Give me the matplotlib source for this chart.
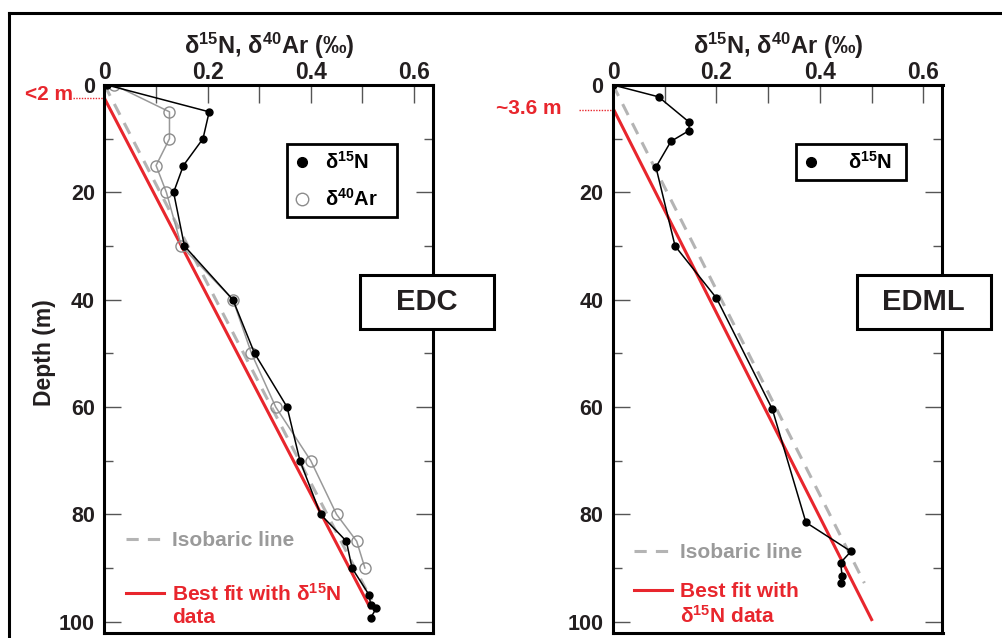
import numpy as np
import matplotlib
matplotlib.use('Agg')
import matplotlib.pyplot as plt
from matplotlib.lines import Line2D
from matplotlib.patches import Rectangle
from matplotlib.ticker import MultipleLocator

plt.rcParams['font.family'] = ['Liberation Sans', 'DejaVu Sans']
plt.rcParams['font.weight'] = 'bold'
plt.rcParams['axes.labelweight'] = 'bold'
plt.rcParams['mathtext.fontset'] = 'custom'
plt.rcParams['mathtext.rm'] = 'Liberation Sans:bold'
plt.rcParams['mathtext.it'] = 'Liberation Sans:bold'
plt.rcParams['mathtext.bf'] = 'Liberation Sans:bold'
plt.rcParams['mathtext.default'] = 'rm'

# --- EDC (left panel) ---
edc_n15_depth = [0, 5, 10, 15, 20, 30, 40, 50, 60, 70, 80, 85, 90, 95, 96.8, 97.5, 99.3]
edc_n15 = [0.005, 0.203, 0.191, 0.153, 0.134, 0.155, 0.249, 0.291, 0.354, 0.379,
           0.419, 0.469, 0.480, 0.513, 0.516, 0.527, 0.516]
edc_ar_depth = [0, 5, 10, 15, 20, 30, 40, 50, 60, 70, 80, 85, 90]
edc_ar = [0.019, 0.126, 0.126, 0.100, 0.120, 0.149, 0.249, 0.285, 0.332, 0.400,
          0.450, 0.489, 0.505]
edc_iso_depth = [0, 96]
edc_iso = [0, 0.518]
edc_fit_depth = [2.5, 97.4]
edc_fit = [0, 0.515]

# --- EDML (right panel) ---
edml_n15_depth = [0, 2.2, 6.9, 8.5, 10.5, 15.3, 30.0, 39.7, 60.4, 81.5, 86.9, 89.0, 91.5, 92.8]
edml_n15 = [0, 0.088, 0.147, 0.147, 0.112, 0.083, 0.120, 0.200, 0.308, 0.373,
            0.460, 0.440, 0.443, 0.441]
edml_iso_depth = [0, 92.8]
edml_iso = [0, 0.486]
edml_fit_depth = [4.7, 99.6]
edml_fit = [0.002, 0.50]

xtick_vals = [0, 0.2, 0.4, 0.6]
xtick_labels = ["0", "0.2", "0.4", "0.6"]
ytick_vals = [0, 20, 40, 60, 80, 100]

RED = "#e8262d"
GRAY_TXT = "#9a9a9a"
GRAY_DASH = "#b4b4b4"
TXT = "#231f20"

W, H = 1003, 638
fig = plt.figure(figsize=(W / 100, H / 100), dpi=100)


def fx(px):
    return px / W


def fy(py):
    return 1 - py / H


def setup_axes(ax):
    ax.set_xlim(0, 0.637)
    ax.set_ylim(102.1, 0)
    ax.xaxis.tick_top()
    ax.xaxis.set_label_position('top')
    ax.set_xticks(xtick_vals)
    ax.set_xticklabels(xtick_labels)
    ax.xaxis.set_minor_locator(MultipleLocator(0.1))
    ax.set_yticks(ytick_vals)
    ax.yaxis.set_minor_locator(MultipleLocator(10))
    ax.tick_params(axis='x', which='both', direction='in', length=13, width=1,
                   color='#555555', top=True, bottom=False, labeltop=True,
                   labelbottom=False, pad=0.5, labelsize=16.5, labelcolor=TXT)
    ax.tick_params(axis='y', which='major', direction='in', length=12.5, width=1,
                   color='#555555', left=True, right=True, pad=7,
                   labelsize=15.5, labelcolor=TXT)
    ax.tick_params(axis='y', which='minor', direction='in', length=6.5, width=1,
                   color='#555555', left=True, right=True)
    for sp in ax.spines.values():
        sp.set_linewidth(2.2)
    ax.set_xlabel("δ$^{15}$N, δ$^{40}$Ar (‰)", fontsize=17, color=TXT,
                  fontweight='bold', labelpad=5)


def line_legends(ax, iso, fit, fit_lines, x_px, iso_y, fit_y):
    """Frameless legends for the isobaric and best-fit lines (text in line colour)."""
    a = ax.legend(handles=[iso], labels=["Isobaric line"], loc='center left',
                  bbox_to_anchor=(fx(x_px), fy(iso_y)), bbox_transform=fig.transFigure,
                  borderaxespad=0, frameon=False, handlelength=1.8, handletextpad=0.4,
                  labelcolor=[GRAY_TXT], prop={'size': 15, 'weight': 'bold'})
    ax.add_artist(a)
    blank = Line2D([], [], alpha=0)
    ax.legend(handles=[fit, blank], labels=fit_lines, loc='center left',
              bbox_to_anchor=(fx(x_px), fy(fit_y)), bbox_transform=fig.transFigure,
              borderaxespad=0, frameon=False, handlelength=1.8, handletextpad=0.4,
              labelspacing=0.15, labelcolor=[RED, RED],
              prop={'size': 15, 'weight': 'bold'})


def boxed_legend(ax, handles, labels, box_px, textpad, labelspacing=0.75):
    """Black framed legend stretched to the box given in pixels (x0, y0, x1, y1)."""
    x0, y0, x1, y1 = box_px
    leg = ax.legend(handles=handles, labels=labels, loc='upper left', mode='expand',
                    bbox_to_anchor=(fx(x0), fy(y1), fx(x1 - x0), (y1 - y0) / H),
                    bbox_transform=fig.transFigure, borderaxespad=0, fancybox=False,
                    framealpha=1, edgecolor='black', handlelength=0.8,
                    handletextpad=textpad, labelspacing=labelspacing, borderpad=0.35,
                    prop={'size': 14.5, 'weight': 'bold'})
    leg.get_frame().set_linewidth(2)
    ax.add_artist(leg)


ax1 = fig.add_axes([fx(104.5), fy(633), fx(433) - fx(104.5), fy(85) - fy(633)])
ax2 = fig.add_axes([fx(613), fy(633), fx(942.5) - fx(613), fy(85) - fy(633)])
setup_axes(ax1)
setup_axes(ax2)

# left panel
iso1, = ax1.plot(edc_iso, edc_iso_depth, color=GRAY_DASH, lw=2.2, ls=(0, (4, 3)))
fit1, = ax1.plot(edc_fit, edc_fit_depth, color=RED, lw=2.2)
ar1, = ax1.plot(edc_ar, edc_ar_depth, color='#999999', lw=1.1, marker='o', ms=8,
                mfc='none', mec='#8c8c8c', mew=1)
n1, = ax1.plot(edc_n15, edc_n15_depth, color='black', lw=1.1, marker='o', ms=5)
ax1.plot([-0.062, 0], [edc_fit_depth[0]] * 2, color=RED, lw=1, ls=(0, (1, 1)),
         clip_on=False)
fig.text(fx(73), fy(95), "<2 m", color=RED, fontsize=15, ha='right', va='center')
fig.text(fx(45), fy(353), "Depth (m)", rotation=90, fontsize=16.5, color=TXT,
         fontweight='bold', ha='center', va='center')

boxed_legend(ax1,
             [Line2D([], [], ls='none', marker='o', ms=7, color='black'),
              Line2D([], [], ls='none', marker='o', ms=9, mfc='none',
                     mec='#8c8c8c', mew=1)],
             ["δ$^{15}$N", "δ$^{40}$Ar"], (287, 144, 397, 216), 0.75)
line_legends(ax1, iso1, fit1, ["Best fit with δ$^{15}$N", "data"], 118, 541, 604.5)

# right panel
iso2, = ax2.plot(edml_iso, edml_iso_depth, color=GRAY_DASH, lw=2.2, ls=(0, (4, 3)))
fit2, = ax2.plot(edml_fit, edml_fit_depth, color=RED, lw=2.2)
n2, = ax2.plot(edml_n15, edml_n15_depth, color='black', lw=1.1, marker='o', ms=5)
ax2.plot([-0.065, 0], [edml_fit_depth[0]] * 2, color=RED, lw=1, ls=(0, (1, 1)),
         clip_on=False)
fig.text(fx(562), fy(108), "~3.6 m", color=RED, fontsize=15, ha='right', va='center')

boxed_legend(ax2, [Line2D([], [], ls='none', marker='o', ms=7, color='black')],
             ["δ$^{15}$N"], (796, 144, 906, 180), 1.45)
line_legends(ax2, iso2, fit2, ["Best fit with", "δ$^{15}$N data"], 626, 553, 604.5)

# site boxes
for x0, name in [(360, "EDC"), (856.7, "EDML")]:
    fig.patches.append(Rectangle((fx(x0), fy(329)), fx(134), 54 / H,
                                 transform=fig.transFigure, facecolor='white',
                                 edgecolor='black', lw=2.2, zorder=5))
    fig.text(fx(x0 + 67), fy(302), name, fontsize=21, color=TXT, ha='center',
             va='center', zorder=6)

# outer frame (cropped)
fig.add_artist(Line2D([fx(9), fx(9)], [0, fy(13)], color='black', lw=2.2))
fig.add_artist(Line2D([fx(9), 1], [fy(13), fy(13)], color='black', lw=2.2))

fig.savefig("out.png", dpi=100)
